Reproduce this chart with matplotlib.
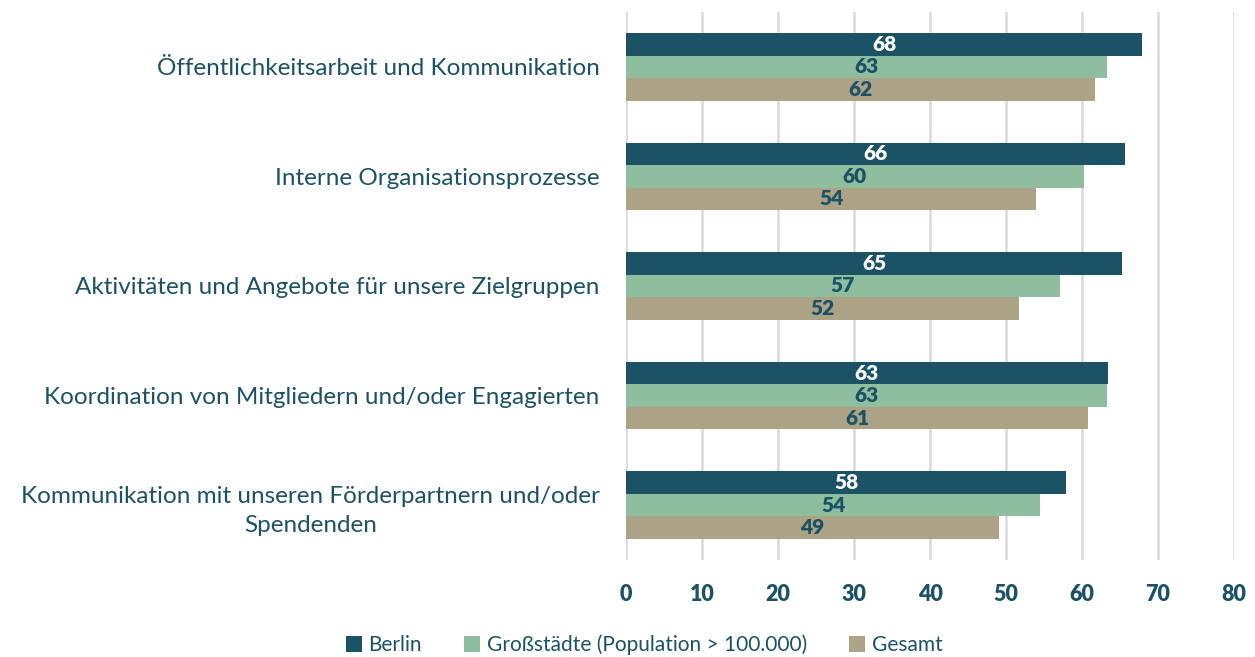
import numpy as np
import matplotlib
matplotlib.use("Agg")
import matplotlib.pyplot as plt
from matplotlib.patches import Patch

# categories from top to bottom
categories = [
    "Öffentlichkeitsarbeit und Kommunikation",
    "Interne Organisationsprozesse",
    "Aktivitäten und Angebote für unsere Zielgruppen",
    "Koordination von Mitgliedern und/oder Engagierten",
    "Kommunikation mit unseren Förderpartnern und/oder\nSpendenden",
]
series_names = ["Berlin", "Großstädte (Population > 100.000)", "Gesamt"]
berlin = [67.9, 65.7, 65.3, 63.4, 57.9]
grossstaedte = [63.3, 60.2, 57.1, 63.3, 54.5]
gesamt = [61.7, 54.0, 51.7, 60.8, 49.1]
xticks = [0, 10, 20, 30, 40, 50, 60, 70, 80]

colors = ["#1b5266", "#8fbe9f", "#aca386"]
label_colors = ["white", "#1b5266", "#1b5266"]
text_color = "#1b5266"

plt.rcParams["font.family"] = ["Lato", "DejaVu Sans"]

fig = plt.figure(figsize=(12.55, 6.57), dpi=100)
ax = fig.add_axes([626 / 1255, 1 - 560 / 657, 608 / 1255, 548 / 657])

bar_h = 0.205
y = np.arange(len(categories))
all_series = [berlin, grossstaedte, gesamt]
for i, vals in enumerate(all_series):
    pos = y + (i - 1) * bar_h
    bars = ax.barh(pos, vals, height=bar_h, color=colors[i], zorder=2)
    for b, v in zip(bars, vals):
        ax.text(v / 2, b.get_y() + b.get_height() / 2, f"{round(v)}",
                ha="center", va="center", color=label_colors[i],
                fontsize=15, fontweight="heavy", zorder=3)

ax.set_xlim(0, 80)
ax.set_ylim(len(categories) - 0.5, -0.5)
ax.set_xticks(xticks)
ax.set_xticklabels([str(t) for t in xticks], fontsize=15.5, fontweight="heavy", color=text_color)
ax.set_yticks(y)
ax.set_yticklabels(categories, fontsize=17.5, color=text_color,
                   multialignment="center", linespacing=1.45)
ax.tick_params(axis="y", length=0, pad=19)
ax.tick_params(axis="x", length=0, pad=17)
for s in ax.spines.values():
    s.set_visible(False)
ax.xaxis.grid(True, color="#d9d9d9", linewidth=1.8, zorder=0)
ax.set_axisbelow(True)

handles = [Patch(facecolor=c, edgecolor="none") for c in colors]
fig.legend(handles, series_names, loc="center", bbox_to_anchor=(644 / 1255, 1 - 645 / 657),
           ncol=3, frameon=False, fontsize=15, labelcolor=text_color,
           handlelength=0.8, handleheight=0.8, handletextpad=0.3, columnspacing=2.0)

fig.savefig("out.png", dpi=100)
